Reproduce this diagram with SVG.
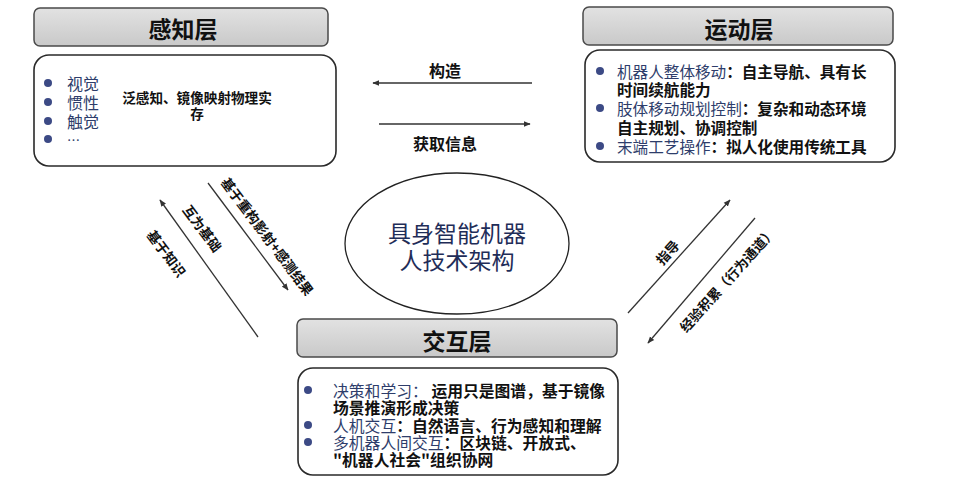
<svg xmlns="http://www.w3.org/2000/svg" width="960" height="486" viewBox="0 0 960 486">
<defs>
<linearGradient id="hdr" x1="0" y1="0" x2="0" y2="1">
<stop offset="0" stop-color="#e2e2e2"/>
<stop offset="1" stop-color="#c9c9c9"/>
</linearGradient>
<marker id="ah" viewBox="0 0 10 10" refX="9" refY="5" markerWidth="7" markerHeight="7" orient="auto-start-reverse" markerUnits="userSpaceOnUse">
<path d="M0,1 L10,5 L0,9 Z" fill="#333"/>
</marker>
<style>
text{font-family:"Noto Sans CJK SC","Noto Sans",sans-serif;dominant-baseline:central}
.hdr{fill:url(#hdr);stroke:#4a4a4a;stroke-width:1.5}
.box{fill:#fff;stroke:#2a2a2a;stroke-width:1.6}
.ht{font-size:23px;font-weight:bold;fill:#111;text-anchor:middle}
.lb{fill:#2e3d6b;font-weight:normal}
.ds{fill:#111;font-weight:bold}
.dot{fill:#3c4a85}
.ln{stroke:#333;stroke-width:1.3;fill:none}
.al{font-size:16px;font-weight:bold;fill:#111;text-anchor:middle}
.dl{font-size:13.5px;font-weight:bold;fill:#111;text-anchor:middle}
</style>
</defs>
<rect width="960" height="486" fill="#fff"/>

<g id="perception">
<rect class="hdr" x="34" y="8" width="294" height="38" rx="6"/>
<text class="ht" x="183" y="28">感知层</text>
<rect class="box" x="34" y="55" width="302" height="111" rx="15"/>
<circle class="dot" cx="48" cy="83" r="4"/>
<circle class="dot" cx="48" cy="102" r="4"/>
<circle class="dot" cx="48" cy="121" r="4"/>
<circle class="dot" cx="48" cy="139" r="4"/>
<text class="lb" font-size="16"><tspan x="67" y="83">视觉</tspan><tspan x="67" y="102">惯性</tspan><tspan x="67" y="121">触觉</tspan><tspan x="67" y="139" font-size="13">…</tspan></text>
<text class="ds" font-size="13.6" text-anchor="middle"><tspan x="197" y="97">泛感知、镜像映射物理实</tspan><tspan x="197" y="113">存</tspan></text>
</g>

<g id="motion">
<rect class="hdr" x="583" y="7" width="310" height="38" rx="6"/>
<text class="ht" x="739" y="28">运动层</text>
<rect class="box" x="585" y="50" width="310" height="112" rx="15"/>
<circle class="dot" cx="600" cy="71" r="4"/>
<circle class="dot" cx="600" cy="108" r="4"/>
<circle class="dot" cx="600" cy="146" r="4"/>
<text font-size="15.6"><tspan class="lb" x="617" y="71">机器人整体移动</tspan><tspan class="ds">：自主导航、具有长</tspan><tspan class="ds" x="617" y="89">时间续航能力</tspan><tspan class="lb" x="617" y="108">肢体移动规划控制</tspan><tspan class="ds">：复杂和动态环境</tspan><tspan class="ds" x="617" y="127">自主规划、协调控制</tspan><tspan class="lb" x="617" y="146">末端工艺操作</tspan><tspan class="ds">：拟人化使用传统工具</tspan></text>
</g>

<g id="interaction">
<rect class="hdr" x="297" y="319" width="320" height="38" rx="6"/>
<text class="ht" x="457" y="340">交互层</text>
<rect class="box" x="298" y="368" width="320" height="107" rx="15"/>
<circle class="dot" cx="308" cy="390" r="4"/>
<circle class="dot" cx="308" cy="425" r="4"/>
<circle class="dot" cx="308" cy="442" r="4"/>
<text font-size="15.8"><tspan class="lb" x="333" y="390">决策和学习：</tspan><tspan class="ds"> 运用只是图谱，基于镜像</tspan><tspan class="ds" x="333" y="407">场景推演形成决策</tspan><tspan class="lb" x="333" y="425">人机交互</tspan><tspan class="ds">：自然语言、行为感知和理解</tspan><tspan class="lb" x="333" y="442">多机器人间交互</tspan><tspan class="ds">：区块链、开放式、</tspan><tspan class="ds" x="333" y="459">"机器人社会"组织协网</tspan></text>
</g>

<g id="core">
<ellipse cx="457" cy="243.5" rx="112" ry="70.5" fill="#fff" stroke="#222" stroke-width="1.3"/>
<text font-size="23" fill="#1f2d58" text-anchor="middle"><tspan x="457" y="232">具身智能机器</tspan><tspan x="457" y="259">人技术架构</tspan></text>
</g>

<g id="connectors">
<line class="ln" x1="532" y1="83" x2="373" y2="83" marker-end="url(#ah)"/>
<text class="al" x="445" y="70">构造</text>
<line class="ln" x1="379" y1="124" x2="530" y2="124" marker-end="url(#ah)"/>
<text class="al" x="445" y="143">获取信息</text>

<line class="ln" x1="258" y1="337" x2="160" y2="200" marker-end="url(#ah)"/>
<line class="ln" x1="208" y1="183" x2="288" y2="290" marker-end="url(#ah)"/>
<text class="dl" transform="translate(167,253) rotate(53)">基于知识</text>
<text class="dl" transform="translate(203,228) rotate(53)">互为基础</text>
<text class="dl" transform="translate(268,236) rotate(53)">基于重构影射+感测结果</text>

<line class="ln" x1="628" y1="313" x2="730" y2="200" marker-end="url(#ah)"/>
<line class="ln" x1="755" y1="218" x2="648" y2="343" marker-end="url(#ah)"/>
<text class="dl" transform="translate(667,252) rotate(-48)">指导</text>
<text class="dl" transform="translate(727,279) rotate(-48)">经验积累（行为通道）</text>
</g>
</svg>
